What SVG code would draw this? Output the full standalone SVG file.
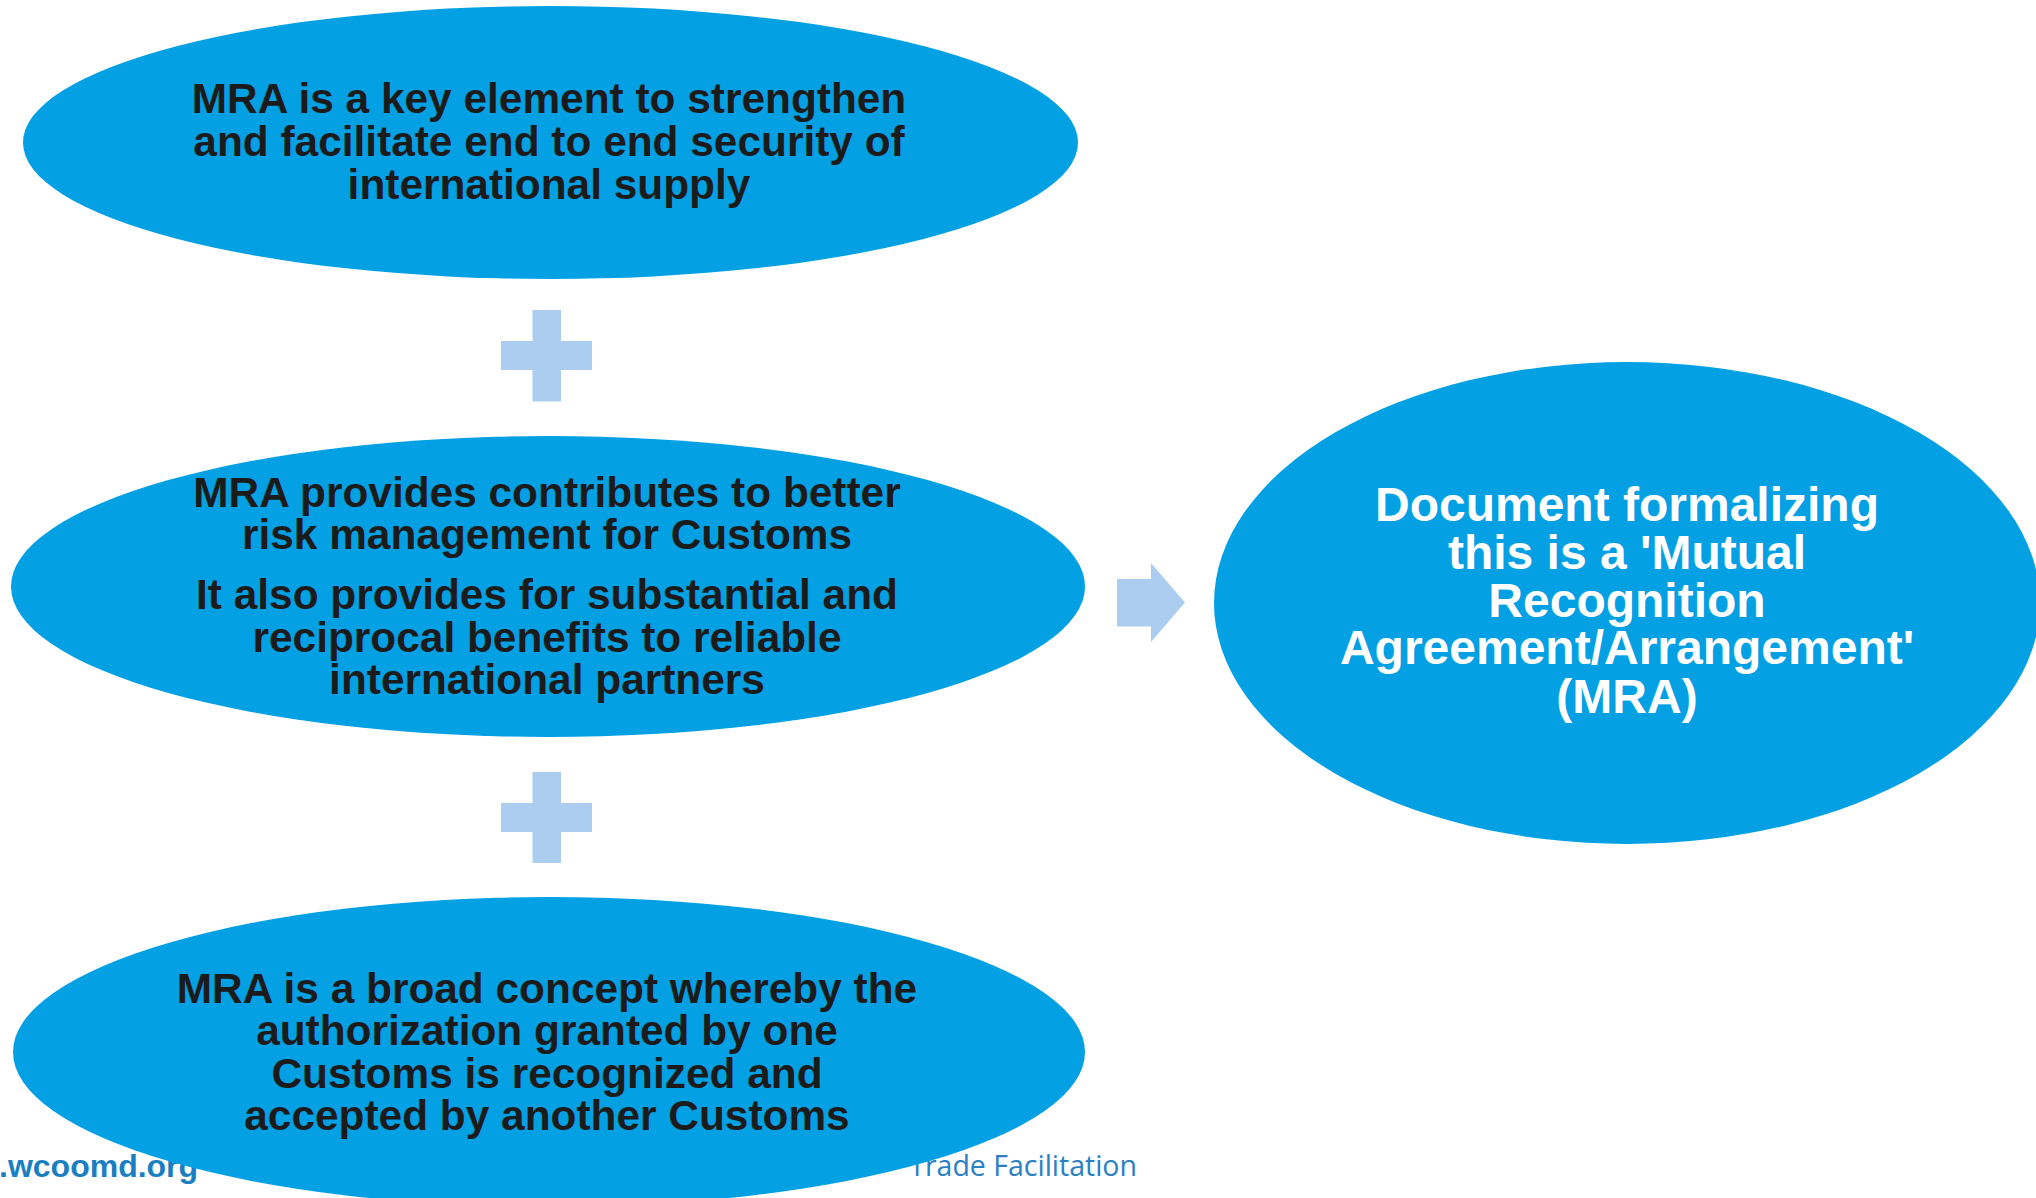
<svg xmlns="http://www.w3.org/2000/svg" width="2036" height="1198" viewBox="0 0 2036 1198">
<style>
.bg{fill:#ffffff}
.oval{fill:#03a0e3}
.sym{fill:#aacdf0}
.dark{font-family:"Liberation Sans",Arial,sans-serif;font-weight:bold;font-size:42.4px;fill:#1b1b1b;text-anchor:middle}
.light{font-family:"Liberation Sans",Arial,sans-serif;font-weight:bold;font-size:48px;fill:#ffffff;text-anchor:middle}
.foot1{font-family:"Liberation Sans",Arial,sans-serif;font-weight:bold;font-size:32px;fill:#1a7fc1}
.foot2{font-family:"Open Sans","DejaVu Sans",sans-serif;font-size:28.5px;fill:#2a80c2;text-anchor:end}
</style>
<rect class="bg" x="0" y="0" width="2036" height="1198"/>
<g id="footer">
<text class="foot1" x="-1" y="1177">.wcoomd.org</text>
<text class="foot2" x="1137" y="1176">Trade Facilitation</text>
</g>
<g id="node-security">
<ellipse class="oval" cx="550.5" cy="142.5" rx="527.5" ry="136.5"/>
<text class="dark" x="549" y="112.5">MRA is a key element to strengthen</text>
<text class="dark" x="549" y="155.5">and facilitate end to end security of</text>
<text class="dark" x="549" y="198.5">international supply</text>
</g>
<g id="node-risk">
<ellipse class="oval" cx="548" cy="586.5" rx="537" ry="150.5"/>
<text class="dark" x="547" y="506.5">MRA provides contributes to better</text>
<text class="dark" x="547" y="548.5">risk management for Customs</text>
<text class="dark" x="547" y="608.5">It also provides for substantial and</text>
<text class="dark" x="547" y="651.5">reciprocal benefits to reliable</text>
<text class="dark" x="547" y="693.5">international partners</text>
</g>
<g id="node-concept">
<ellipse class="oval" cx="549" cy="1052" rx="536" ry="155"/>
<text class="dark" x="547" y="1002.5">MRA is a broad concept whereby the</text>
<text class="dark" x="547" y="1044.5">authorization granted by one</text>
<text class="dark" x="547" y="1087.5">Customs is recognized and</text>
<text class="dark" x="547" y="1129.5">accepted by another Customs</text>
</g>
<g id="node-document">
<ellipse class="oval" cx="1627" cy="603" rx="413" ry="241"/>
<text class="light" x="1627" y="521">Document formalizing</text>
<text class="light" x="1627" y="569">this is a 'Mutual</text>
<text class="light" x="1627" y="617">Recognition</text>
<text class="light" x="1627" y="664">Agreement/Arrangement'</text>
<text class="light" x="1627" y="713">(MRA)</text>
</g>
<g id="connectors">
<path class="sym" d="M532.5 310 H561 V341 H592 V370 H561 V401.5 H532.5 V370 H501 V341 H532.5 Z"/>
<path class="sym" d="M532.5 772 H561 V803 H592 V832 H561 V863 H532.5 V832 H501 V803 H532.5 Z"/>
<path class="sym" d="M1117 579 H1151 V563 L1185 602.5 L1151 642 V626.5 H1117 Z"/>
</g>
</svg>
